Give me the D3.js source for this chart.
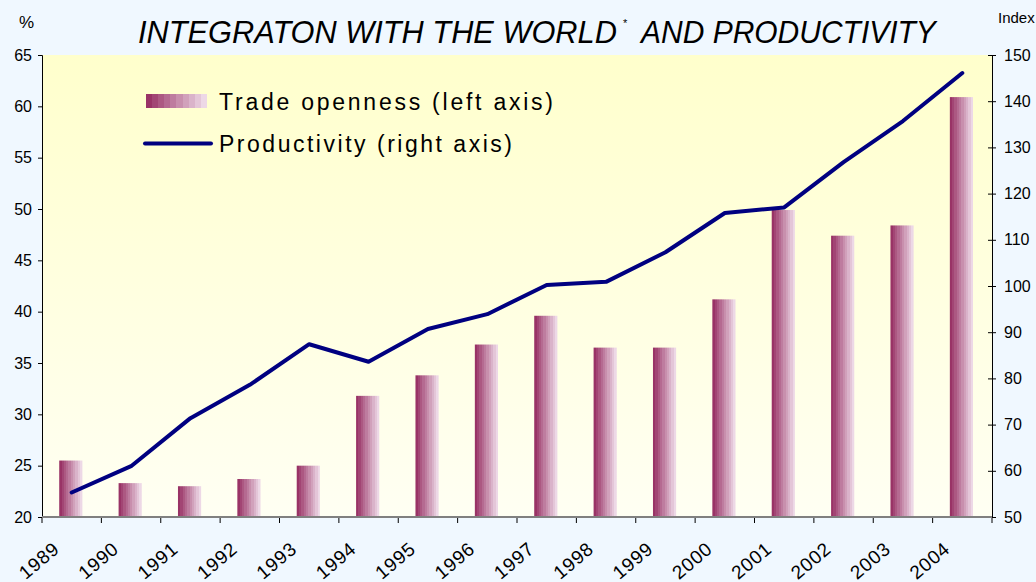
<!DOCTYPE html>
<html>
<head>
<meta charset="utf-8">
<script src="https://cdn.jsdelivr.net/npm/d3@7"></script>
<style>
  body { margin: 0; background: #F0F8FF; }
  text { font-family: "Liberation Sans", Arial, sans-serif; fill: #000; }
</style>
</head>
<body>
<div id="chart"></div>
<script>
var years = ["1989","1990","1991","1992","1993","1994","1995","1996",
             "1997","1998","1999","2000","2001","2002","2003","2004"];
var tradeOpenness = [25.5, 23.3, 23.0, 23.7, 25.0, 31.8, 33.8, 36.8,
                     39.6, 36.5, 36.5, 41.2, 49.9, 47.4, 48.4, 60.9];
var productivity = [55.3, 61.0, 71.4, 78.6, 87.4, 83.6, 90.7, 93.9,
                    100.2, 100.9, 107.3, 115.8, 117.0, 126.8, 135.7, 146.1];
var leftTicks = [20, 25, 30, 35, 40, 45, 50, 55, 60, 65];
var rightTicks = [50, 60, 70, 80, 90, 100, 110, 120, 130, 140, 150];

var width = 1036, height = 582;
var plot = {left: 42, right: 992, top: 55, bottom: 517};

var svg = d3.select('#chart').append('svg')
  .attr('width', width)
  .attr('height', height)
  .style('background-color', '#F0F8FF');

var defs = svg.append('defs');

// plot area: pale yellow fading down
var bgGrad = defs.append('linearGradient')
  .attr('id', 'plot-bg').attr('x1', 0).attr('y1', 0).attr('x2', 0).attr('y2', 1);
bgGrad.append('stop').attr('offset', '0%').attr('stop-color', '#FFFFCC');
bgGrad.append('stop').attr('offset', '100%').attr('stop-color', '#FFFFF3');

// stepped bar fill, dark magenta to pale pink
var barGrad = defs.append('linearGradient')
  .attr('id', 'bar-fill').attr('x1', 0).attr('y1', 0).attr('x2', 1).attr('y2', 0);
var steps = 10;
var barColor = d3.interpolateRgb('#993366', '#EDD8E6');
for (var i = 0; i < steps; i++) {
  var c = barColor(i / (steps - 1));
  barGrad.append('stop').attr('offset', (i / steps * 100) + '%').attr('stop-color', c);
  barGrad.append('stop').attr('offset', ((i + 1) / steps * 100) + '%').attr('stop-color', c);
}

svg.append('rect')
  .attr('x', plot.left).attr('y', plot.top)
  .attr('width', plot.right - plot.left).attr('height', plot.bottom - plot.top)
  .attr('fill', 'url(#plot-bg)');

var x = d3.scaleBand().domain(years).range([plot.left, plot.right]).paddingInner(0).paddingOuter(0);
var yLeft = d3.scaleLinear().domain([20, 65]).range([plot.bottom, plot.top]);
var yRight = d3.scaleLinear().domain([50, 150]).range([plot.bottom, plot.top]);

// bars
svg.selectAll('.bar')
  .data(years)
  .enter().append('rect')
  .attr('class', 'bar')
  .attr('x', function(d) { return x(d) + x.bandwidth() * 0.29; })
  .attr('width', x.bandwidth() * 0.39)
  .attr('y', function(d, i) { return yLeft(tradeOpenness[i]); })
  .attr('height', function(d, i) { return plot.bottom - yLeft(tradeOpenness[i]); })
  .attr('fill', 'url(#bar-fill)');

// productivity line
var line = d3.line()
  .x(function(d, i) { return x(years[i]) + x.bandwidth() / 2; })
  .y(function(d) { return yRight(d); });

svg.append('path')
  .datum(productivity)
  .attr('d', line)
  .attr('fill', 'none')
  .attr('stroke', '#000080')
  .attr('stroke-width', 4)
  .attr('stroke-linejoin', 'round')
  .attr('stroke-linecap', 'round');

// left axis
var leftAxis = svg.append('g')
  .attr('transform', 'translate(' + plot.left + ',0)')
  .call(d3.axisLeft(yLeft).tickValues(leftTicks).tickSize(4).tickPadding(6));
leftAxis.select('.domain').attr('stroke', '#000');
leftAxis.selectAll('text').attr('font-size', 16).attr('font-family', '"Liberation Sans", Arial, sans-serif');

// right axis, ticks crossing the line
var rightAxis = svg.append('g')
  .attr('transform', 'translate(' + plot.right + ',0)')
  .call(d3.axisRight(yRight).tickValues(rightTicks).tickSizeInner(4).tickSizeOuter(0).tickPadding(8));
rightAxis.select('.domain').attr('stroke', '#000');
rightAxis.selectAll('.tick line').attr('x1', -4).attr('x2', 4);
rightAxis.selectAll('text').attr('font-size', 16).attr('font-family', '"Liberation Sans", Arial, sans-serif');

// category axis
var bounds = years.map(function(d) { return x(d); }).concat([plot.right]);
svg.selectAll('.xtick')
  .data(bounds)
  .enter().append('line')
  .attr('x1', function(d) { return d; }).attr('x2', function(d) { return d; })
  .attr('y1', plot.bottom).attr('y2', plot.bottom + 6)
  .attr('stroke', '#000').attr('stroke-width', 1);
svg.append('line')
  .attr('x1', plot.left).attr('x2', plot.right)
  .attr('y1', plot.bottom).attr('y2', plot.bottom)
  .attr('stroke', '#808080').attr('stroke-width', 2);

svg.selectAll('.xlabel')
  .data(years)
  .enter().append('text')
  .attr('class', 'xlabel')
  .attr('text-anchor', 'end')
  .attr('transform', function(d) {
    return 'translate(' + (x(d) + x.bandwidth() / 2 - 11) + ',' + 551 + ') rotate(-40)';
  })
  .style('font-size', '19px')
  .style('letter-spacing', '0.8px')
  .text(function(d) { return d; });

// squeeze a text horizontally so it spans the given width
function fitWidth(sel, left, base, target) {
  var natural = sel.node().getComputedTextLength();
  sel.attr('transform', 'translate(' + left + ',' + base + ') scale(' + (target / natural) + ',1)');
}

// title, split round the footnote mark
var title1 = svg.append('text')
  .style('font-size', '32px').style('font-style', 'italic')
  .text('INTEGRATON  WITH THE WORLD');
fitWidth(title1, 138, 43, 479);
svg.append('text')
  .attr('x', 623).attr('y', 27)
  .style('font-size', '11px')
  .text('*');
var title2 = svg.append('text')
  .style('font-size', '32px').style('font-style', 'italic')
  .text('AND PRODUCTIVITY');
fitWidth(title2, 641, 43, 295);

svg.append('text').attr('x', 19).attr('y', 28).style('font-size', '17px').text('%');
svg.append('text').attr('x', 998).attr('y', 23).style('font-size', '15px').text('Index');

// legend
var legend = svg.append('g');
legend.append('rect')
  .attr('x', 146).attr('y', 94).attr('width', 61).attr('height', 14)
  .attr('fill', 'url(#bar-fill)');
legend.append('line')
  .attr('x1', 145).attr('x2', 211).attr('y1', 143.5).attr('y2', 143.5)
  .attr('stroke', '#000080').attr('stroke-width', 4).attr('stroke-linecap', 'round');
legend.append('text')
  .attr('x', 219).attr('y', 110)
  .attr('textLength', 334).attr('lengthAdjust', 'spacing')
  .style('font-size', '23px').text('Trade openness (left axis)');
legend.append('text')
  .attr('x', 219).attr('y', 152)
  .attr('textLength', 293).attr('lengthAdjust', 'spacing')
  .style('font-size', '23px').text('Productivity (right axis)');
</script>
</body>
</html>
